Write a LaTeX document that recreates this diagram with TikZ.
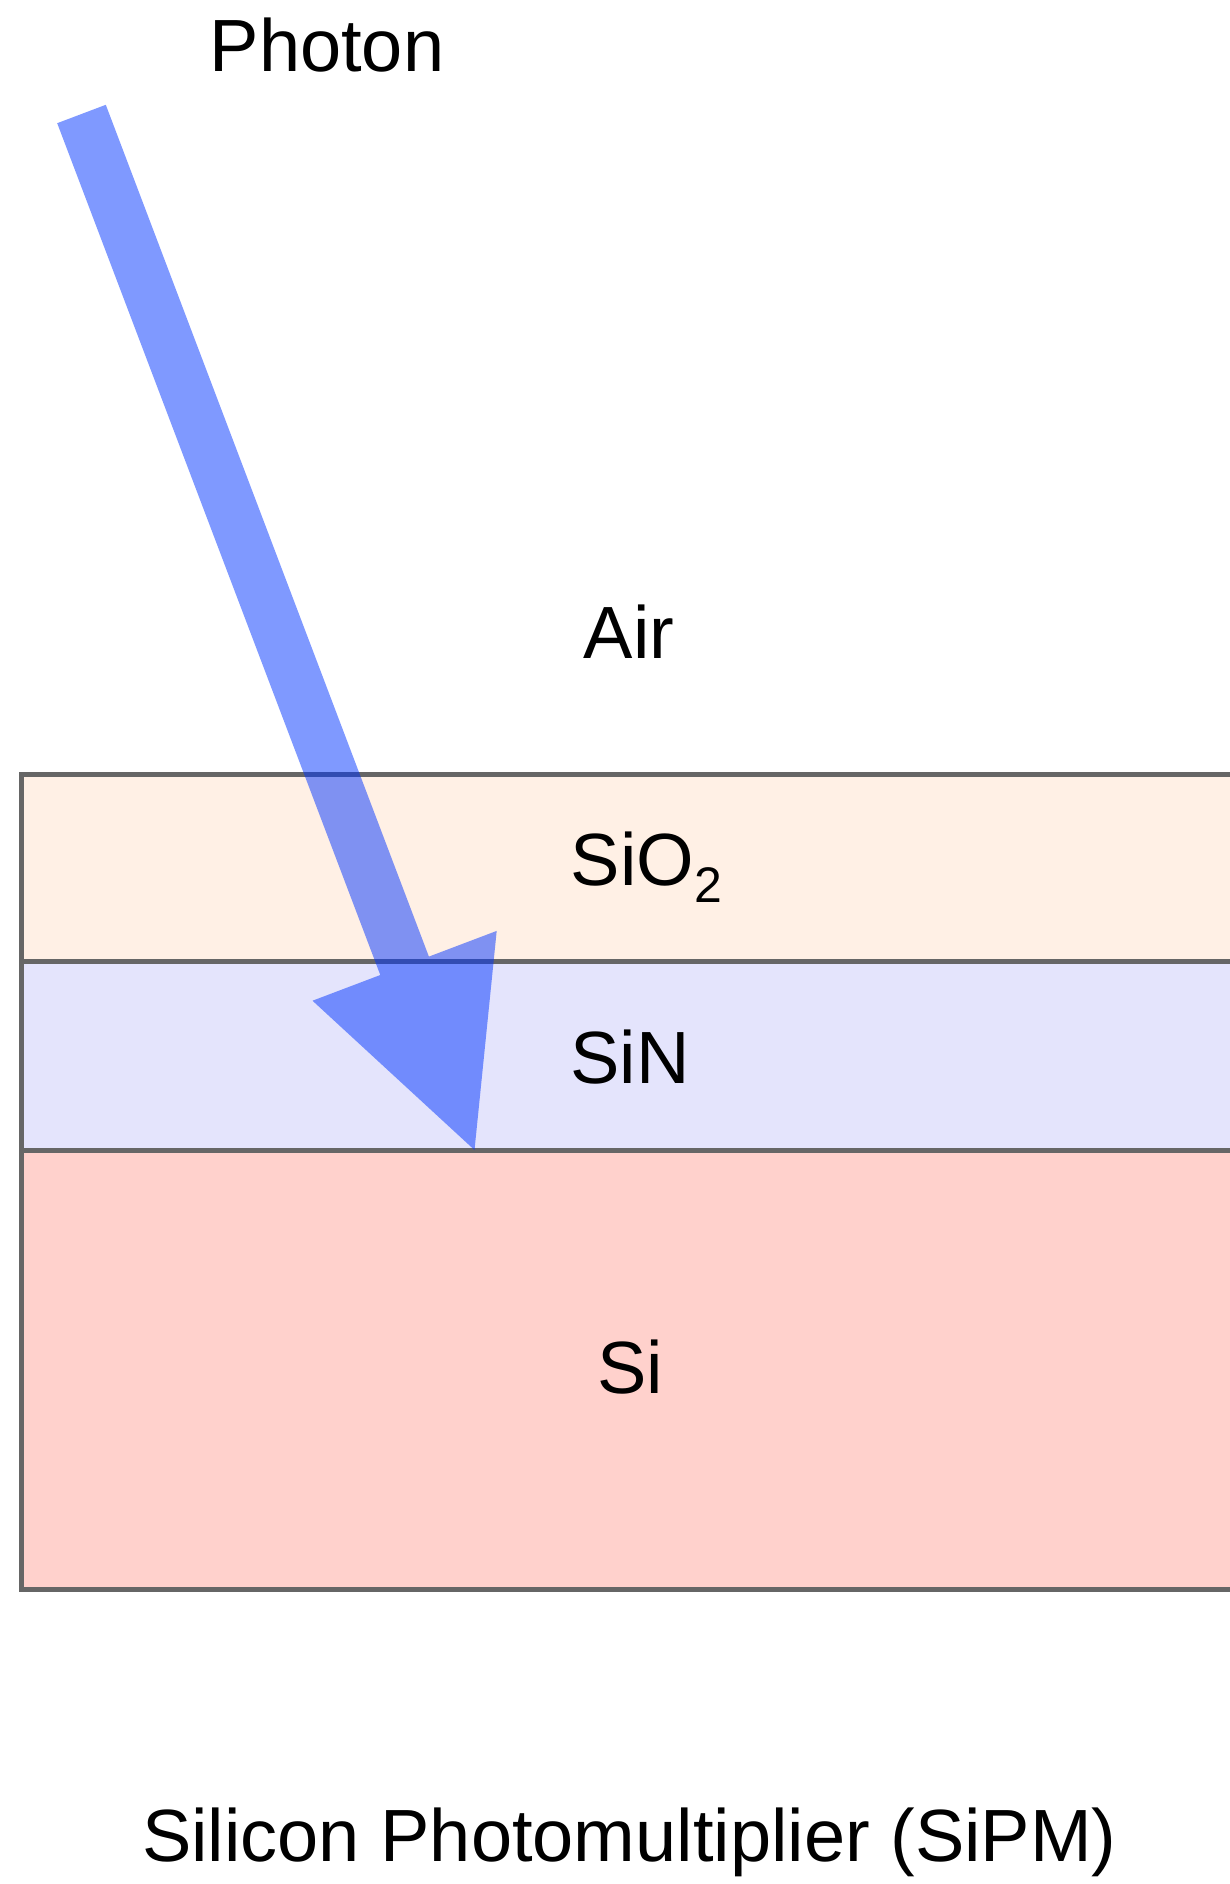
\documentclass[tikz,border=0pt]{standalone}
\usepackage{fontspec}
\setmainfont{Liberation Sans}
\definecolor{edgegray}{HTML}{666666}
\definecolor{oxidefill}{HTML}{FFF0E5}
\definecolor{nitridefill}{HTML}{E4E4FC}
\definecolor{siliconfill}{HTML}{FFD1CC}
\definecolor{photonblue}{HTML}{0033FF}

\begin{document}
\begin{tikzpicture}[x=1pt,y=-1pt,
  layerbox/.style={draw=edgegray,line width=5pt},
  lbl/.style={inner sep=0pt,anchor=base,font=\fontsize{74}{88}\selectfont},
  photonarrow/.style={fill=photonblue,fill opacity=0.5,draw=none}]

  % page frame
  \path[use as bounding box] (0,0) rectangle (1230,1884);
  \clip (0,0) rectangle (1230,1884);

  % material stack (runs past the right edge)
  \path[layerbox,fill=siliconfill] (21.5,1150) rectangle (1260,1589.5);
  \path[layerbox,fill=nitridefill] (21.5,961.5) rectangle (1260,1150);
  \path[layerbox,fill=oxidefill]   (21.5,774) rectangle (1260,961.5);

  % labels
  \node[lbl] (photon) at (327,71.7) {Photon};
  \node[lbl] (air) at (629,658) {Air};
  \node[lbl] (sio2) at (646.5,885) {SiO\raisebox{-17pt}{\fontsize{50}{50}\selectfont 2}};
  \node[lbl] (sin) at (630,1083) {SiN};
  \node[lbl] (si) at (630,1393) {Si};
  \node[lbl] (title) at (629.5,1861.7) {Silicon Photomultiplier (SiPM)};

  % incoming photon: wide translucent arrow
  \coordinate (tailL) at (57.2,123.2);
  \coordinate (tailR) at (105.8,104.8);
  \coordinate (neckL) at (380.3,975.0);
  \coordinate (neckR) at (428.9,956.6);
  \coordinate (barbL) at (312.5,1000.7);
  \coordinate (barbR) at (496.7,930.9);
  \coordinate (tip) at (474.5,1150);
  \fill[photonarrow] (tailL) -- (neckL) -- (barbL) -- (tip) -- (barbR)
    -- (neckR) -- (tailR) -- cycle;
\end{tikzpicture}
\end{document}
